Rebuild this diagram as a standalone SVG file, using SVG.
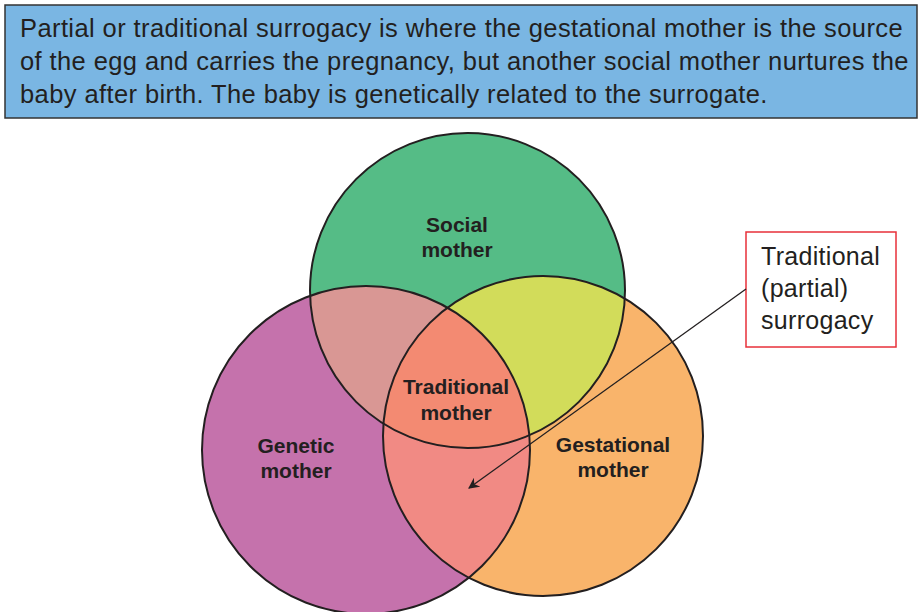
<svg xmlns="http://www.w3.org/2000/svg" xmlns:xlink="http://www.w3.org/1999/xlink" width="920" height="612" viewBox="0 0 920 612">
<style>
.hdr{font-family:"Liberation Sans",Arial,sans-serif;font-size:25.5px;letter-spacing:0.4px;fill:#231f20}
.lbl{font-family:"Liberation Sans",Arial,sans-serif;font-size:21px;font-weight:bold;fill:#231f20;text-anchor:middle}
.call{font-family:"Liberation Sans",Arial,sans-serif;font-size:25px;letter-spacing:0.3px;fill:#231f20}
.ring{fill:none;stroke:#231f20;stroke-width:2}
</style>
<defs>
<circle id="cS" cx="467.5" cy="290.5" r="157.5"/>
<circle id="cG" cx="366" cy="450" r="164"/>
<circle id="cT" cx="543" cy="436" r="160"/>
<clipPath id="clipS"><use xlink:href="#cS"/></clipPath>
<clipPath id="clipG"><use xlink:href="#cG"/></clipPath>
<marker id="arr" viewBox="0 0 10 10" refX="9" refY="5" markerWidth="11" markerHeight="11" markerUnits="userSpaceOnUse" orient="auto"><path d="M0,0 L10,5 L0,10 L3,5 z" fill="#231f20"/></marker>
</defs>
<g id="header">
<rect x="5" y="5" width="912" height="113" fill="#7ab6e3" stroke="#333" stroke-width="1.5"/>
<text class="hdr" x="20" y="37">Partial or traditional surrogacy is where the gestational mother is the source</text>
<text class="hdr" x="20" y="70">of the egg and carries the pregnancy, but another social mother nurtures the</text>
<text class="hdr" x="20" y="103">baby after birth. The baby is genetically related to the surrogate.</text>
</g>
<g id="genetic"><use xlink:href="#cG" fill="#c572ac"/></g>
<g id="gestational"><use xlink:href="#cT" fill="#f9b46b"/></g>
<g id="social"><use xlink:href="#cS" fill="#55bc86"/></g>
<g id="social-genetic" clip-path="url(#clipS)"><use xlink:href="#cG" fill="#d99794"/></g>
<g id="social-gestational" clip-path="url(#clipS)"><use xlink:href="#cT" fill="#d2dc5a"/></g>
<g id="genetic-gestational" clip-path="url(#clipG)"><use xlink:href="#cT" fill="#f18a84"/></g>
<g id="traditional" clip-path="url(#clipS)"><g clip-path="url(#clipG)"><use xlink:href="#cT" fill="#f38a72"/></g></g>
<g id="outlines">
<use xlink:href="#cS" class="ring"/>
<use xlink:href="#cG" class="ring"/>
<use xlink:href="#cT" class="ring"/>
</g>
<g id="labels">
<text class="lbl" x="457" y="232">Social</text>
<text class="lbl" x="457" y="257">mother</text>
<text class="lbl" x="456" y="394">Traditional</text>
<text class="lbl" x="456" y="420">mother</text>
<text class="lbl" x="296" y="453">Genetic</text>
<text class="lbl" x="296" y="478">mother</text>
<text class="lbl" x="613" y="452">Gestational</text>
<text class="lbl" x="613" y="477">mother</text>
</g>
<g id="callout">
<rect x="746" y="232" width="150" height="115" fill="#fff" stroke="#e8303a" stroke-width="1.5"/>
<text class="call" x="761" y="265">Traditional</text>
<text class="call" x="761" y="297">(partial)</text>
<text class="call" x="761" y="329">surrogacy</text>
</g>
<g id="connectors">
<line x1="746" y1="289" x2="469" y2="488" stroke="#231f20" stroke-width="1.3" marker-end="url(#arr)"/>
</g>
</svg>
